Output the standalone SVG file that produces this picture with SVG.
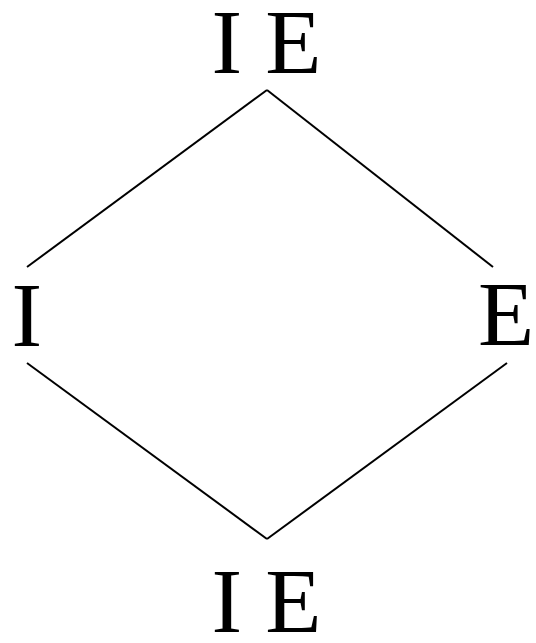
<svg xmlns="http://www.w3.org/2000/svg" width="536" height="643" viewBox="0 0 536 643">
<style>
.lbl{font-family:"Liberation Serif","Times New Roman",serif;font-size:92px;fill:#000}
.edge{stroke:#000;stroke-width:2;fill:none}
</style>
<rect width="536" height="643" fill="#fff"/>
<g id="connectors">
<line class="edge" x1="267" y1="90" x2="27" y2="267"/>
<line class="edge" x1="267" y1="90" x2="493" y2="267"/>
<line class="edge" x1="27" y1="363" x2="267" y2="539"/>
<line class="edge" x1="507" y1="363" x2="267" y2="539"/>
</g>
<g id="top"><text class="lbl" x="266.5" y="73" text-anchor="middle">I E</text></g>
<g id="left"><text class="lbl" x="11.5" y="346">I</text></g>
<g id="right"><text class="lbl" x="478" y="345">E</text></g>
<g id="bottom"><text class="lbl" x="266.5" y="632" text-anchor="middle">I E</text></g>
</svg>
